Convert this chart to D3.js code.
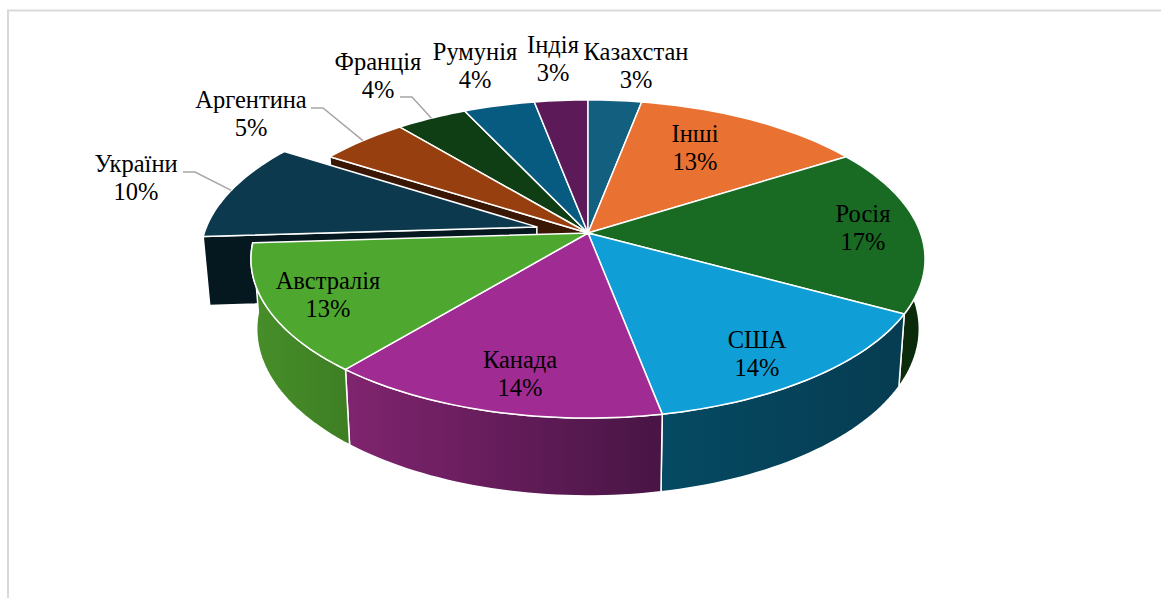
<!DOCTYPE html>
<html><head><meta charset="utf-8">
<script src="https://cdn.jsdelivr.net/npm/d3@7/dist/d3.min.js"></script>
<style>html,body{margin:0;padding:0;background:#fff}svg{display:block}
text{font-family:"Liberation Serif",serif;font-size:24.5px;fill:#000;text-anchor:middle}</style>
</head><body><svg id="c" width="1161" height="598"></svg>
<script>
// ---- data ----
const categories = ["Казахстан","Інші","Росія","США","Канада","Австралія","України","Аргентина","Франція","Румунія","Індія"];
const shares = [3,13,17,14,14,13,10,5,4,4,3];
// ---- styles / layout ----
const topColors = ["#135f80","#e97132","#196b24","#0f9ed5","#a02b93","#4ea72e","#0d394f","#973f0e","#0f3e14","#075b80","#5c1a58"];
const wallFrom  = ["#0b3a4e","#8c4a20","#0c2e0c","#054a62","#80246f","#478f2a","#05181f","#3a1604","#0a2a0e","#053a52","#3a1038"];
const wallTo    = ["#0b3a4e","#8c4a20","#0b2a0b","#063c52","#481545","#3e7f24","#05181f","#3a1604","#0a2a0e","#053a52","#3a1038"];
const labelAt = [[636,60],[695,142],[863,222],[757,348],[520,368],[328,289],[136,172],[251,108],[378,70],[475,60],[553,53]];
const leaderElbow = {6:[[183,172],[195,172]],7:[[311,108],[323,108]],8:[[400,97],[412,97]]};
const explode = {6:0.16};

const svg = d3.select("#c");
// frame
svg.append("path").attr("d","M8 598V10.5H1161").attr("fill","none").attr("stroke","#d9d9d9").attr("stroke-width",2);

// perspective mapping of the unit disc
const cx=588, cy=233, persp=0.1635;
const sx=d3.scaleLinear().domain([-1,1]).range([cx-332.5,cx+332.5]);
const sy=d3.scaleLinear().domain([-1,1]).range([cy-154.8,cy+154.8]);
function project(x,y){const w=1-persp*y;return [sx(x/w),sy(y/w)];}
const depthScale=0.983;
function lower(p){return [cx+(p[0]-cx)*depthScale,p[1]+57+0.05*p[1]];}

const arcs=d3.pie().value(d=>d).sort(null)(shares);
function off(i){const a=arcs[i],k=explode[i]||0,m=(a.startAngle+a.endAngle)/2;return [k*Math.sin(m),-k*Math.cos(m)];}
function rimPt(i,t){const o=off(i);return project(o[0]+Math.sin(t),o[1]-Math.cos(t));}
function apex(i){const o=off(i);return project(o[0],o[1]);}
function rim(i,a0,a1){const n=Math.max(2,Math.ceil((a1-a0)*40));return d3.range(n+1).map(k=>rimPt(i,a0+(a1-a0)*k/n));}
const line=d3.line();
const defs=svg.append("defs");
function grad(i){
  const id="g"+i,pts=rim(i,arcs[i].startAngle,arcs[i].endAngle),xs=d3.extent(pts,p=>p[0]);
  const g=defs.append("linearGradient").attr("id",id).attr("gradientUnits","userSpaceOnUse")
    .attr("x1",xs[0]).attr("x2",xs[1]).attr("y1",0).attr("y2",0);
  g.append("stop").attr("offset",0).attr("stop-color",wallFrom[i]);
  g.append("stop").attr("offset",1).attr("stop-color",wallTo[i]);
  return `url(#${id})`;
}
const edge={stroke:"#fff","stroke-width":1.5,"stroke-linejoin":"round"};
function shape(pts,fill){const p=svg.append("path").attr("d",line(pts)+"Z").attr("fill",fill);
  for(const k in edge)p.attr(k,edge[k]);return p;}
function drawTop(i){const a=arcs[i];shape([apex(i),...rim(i,a.startAngle,a.endAngle)],topColors[i]);}
function cutFace(i,t,fill){const r=rimPt(i,t),c=apex(i);shape([c,r,lower(r),lower(c)],fill);}
function wall(i){const a=arcs[i],r=rim(i,a.startAngle,a.endAngle);shape([...r,...r.slice().reverse().map(lower)],grad(i));}

// back to front
cutFace(7,arcs[7].startAngle,wallFrom[7]);   // side of the slice next to the pulled-out one
[8,9,10,0,1,7].forEach(drawTop);
cutFace(6,arcs[6].startAngle,wallFrom[6]);
drawTop(6);
[2,3,4,5].forEach(wall);
[2,3,4,5].forEach(drawTop);

// leader lines
Object.keys(leaderElbow).forEach(k=>{
  const i=+k,a=arcs[i],end=rimPt(i,(a.startAngle+a.endAngle)/2);
  svg.append("path").attr("d",line([...leaderElbow[k],end])).attr("fill","none")
    .attr("stroke","#a6a6a6").attr("stroke-width",1.5);
});
// labels
categories.forEach((c,i)=>{
  const t=svg.append("text").attr("x",labelAt[i][0]).attr("y",labelAt[i][1]);
  t.append("tspan").attr("x",labelAt[i][0]).text(c);
  t.append("tspan").attr("x",labelAt[i][0]).attr("dy",27.5).text(d3.format(".0%")(shares[i]/d3.sum(shares)));
});
</script></body></html>
